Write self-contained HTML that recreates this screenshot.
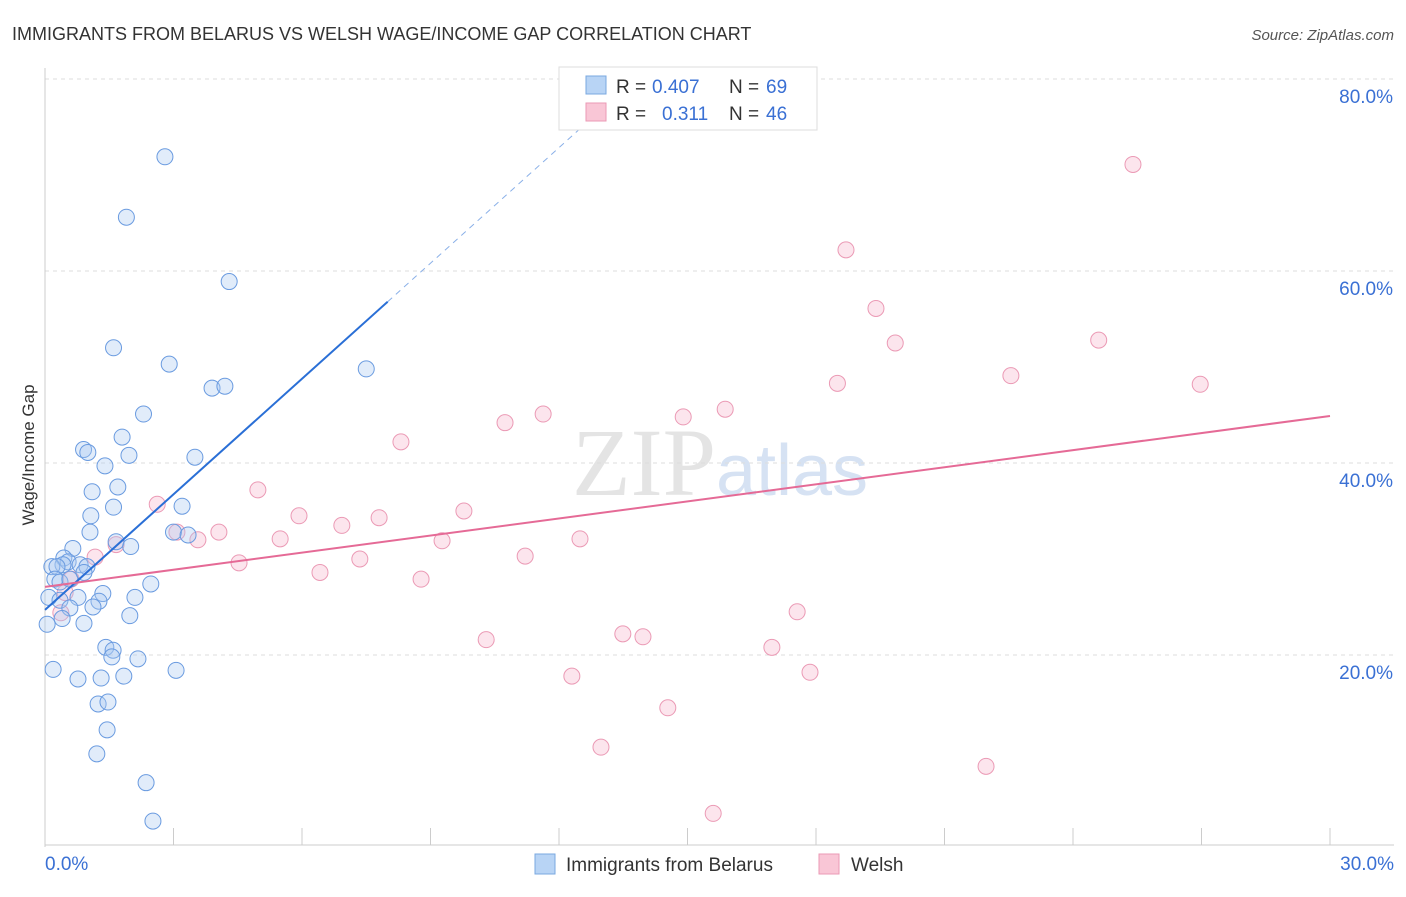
<!DOCTYPE html>
<html><head><meta charset="utf-8"><style>
body{margin:0;background:#fff;font-family:"Liberation Sans",sans-serif;}
</style></head><body>
<svg width="1406" height="892" xmlns="http://www.w3.org/2000/svg" font-family="Liberation Sans, sans-serif">
<text x="12" y="40" font-size="18" fill="#333">IMMIGRANTS FROM BELARUS VS WELSH WAGE/INCOME GAP CORRELATION CHART</text>
<text x="1394" y="40" font-size="15" fill="#555" font-style="italic" text-anchor="end">Source: ZipAtlas.com</text>
<text x="720" y="495" font-size="96" fill="#e4e4e4" text-anchor="middle" font-family="Liberation Serif, serif">ZIP<tspan fill="#d6e2f3" font-family="Liberation Sans, sans-serif" font-size="72">atlas</tspan></text>
<g id="grid"></g><g id="axes"></g><g id="marks"></g>
<text x="34" y="455" font-size="17" fill="#333" text-anchor="middle" transform="rotate(-90 34 455)">Wage/Income Gap</text>
<g>
<rect x="559" y="67" width="258" height="63" fill="#fff" stroke="#ddd"/>
<rect x="586" y="76" width="20" height="18" fill="#b8d4f5" stroke="#7aa8e0"/>
<rect x="586" y="103" width="20" height="18" fill="#f9c6d6" stroke="#eb9ab5"/>
<text x="616" y="93" font-size="19" fill="#333">R =</text>
<text x="652" y="93" font-size="19" fill="#3a70d4">0.407</text>
<text x="729" y="93" font-size="19" fill="#333">N =</text>
<text x="766" y="93" font-size="19" fill="#3a70d4">69</text>
<text x="616" y="120" font-size="19" fill="#333">R =</text>
<text x="662" y="120" font-size="19" fill="#3a70d4">0.311</text>
<text x="729" y="120" font-size="19" fill="#333">N =</text>
<text x="766" y="120" font-size="19" fill="#3a70d4">46</text>
</g>
<g>
<rect x="535" y="854" width="20" height="20" fill="#b8d4f5" stroke="#7aa8e0"/>
<text x="566" y="871" font-size="19" fill="#333">Immigrants from Belarus</text>
<rect x="819" y="854" width="20" height="20" fill="#f9c6d6" stroke="#eb9ab5"/>
<text x="851" y="871" font-size="19" fill="#333">Welsh</text>
</g>
</svg>
<script>
const yTicks=[20,40,60,80];
const xTickLabels=["0.0%","30.0%"];
const blueX=[2.8,1.9,4.3,1.6,2.9,7.5,3.9,4.2,2.3,1.8,0.9,1.0,1.96,3.5,1.4,1.7,1.1,1.6,3.2,1.07,1.05,3.0,3.34,1.66,2.0,0.65,0.44,0.54,0.42,0.16,0.28,0.82,0.98,0.91,0.23,0.35,0.58,2.47,1.35,0.09,0.77,0.35,2.1,1.26,1.12,0.58,1.98,0.4,0.91,0.05,1.42,1.59,1.56,2.17,0.19,3.06,0.77,1.31,1.84,1.24,1.47,1.45,1.21,2.36,2.52];
const blueY=[71.9,65.6,58.9,52.0,50.3,49.8,47.8,48.0,45.1,42.7,41.4,41.1,40.8,40.6,39.7,37.5,37.0,35.4,35.5,34.5,32.8,32.8,32.5,31.8,31.3,31.1,30.1,29.7,29.4,29.2,29.2,29.4,29.2,28.6,27.9,27.6,27.9,27.4,26.4,26.0,26.0,25.7,26.0,25.6,25.0,24.9,24.1,23.8,23.3,23.2,20.8,20.5,19.8,19.6,18.5,18.4,17.5,17.6,17.8,14.9,15.1,12.2,9.7,6.7,2.7];
const pinkX=[25.4,18.7,19.4,19.85,24.6,22.55,18.5,26.97,11.63,15.88,14.9,10.74,8.31,4.97,2.62,5.93,9.78,7.8,6.93,4.06,3.08,3.57,5.49,9.27,12.49,1.66,1.17,11.21,7.35,4.53,6.42,8.78,0.61,0.47,17.56,0.37,10.3,13.49,13.96,16.97,17.86,12.3,14.54,12.98,21.97,15.6];
const pinkY=[71.1,62.2,56.1,52.5,52.8,49.1,48.3,48.2,45.1,45.6,44.8,44.2,42.2,37.2,35.7,34.5,35.0,34.3,33.5,32.8,32.8,32.0,32.1,31.9,32.1,31.5,30.2,30.3,30.0,29.6,28.6,27.9,27.9,26.5,24.5,24.4,21.6,22.2,21.9,20.8,18.2,17.8,14.5,10.4,8.4,3.5];
const blueTrend={x0:0,y0:24.7,x1:8.0,y1:56.8,xd:12.7};
const pinkTrend={x0:0,y0:27.1,x1:30,y1:44.9};
const NS="http://www.w3.org/2000/svg";
const X=v=>45+v/30*1285, Y=v=>847-v*9.6;
function mk(t,a,p){const e=document.createElementNS(NS,t);for(const k in a)e.setAttribute(k,a[k]);document.getElementById(p).appendChild(e);return e;}
yTicks.forEach(t=>{
 let l=mk('line',{x1:45,x2:1394,y1:Y(t),y2:Y(t),stroke:'#ddd','stroke-dasharray':'4,4'},'grid');
 
 
 let tx=mk('text',{x:1393,y:Y(t)+24,'font-size':19,fill:'#3a70d4','text-anchor':'end'},'axes');tx.textContent=t.toFixed(1)+'%';
 
 
});
let ax=mk('line',{x1:45,x2:45,y1:68,y2:847,stroke:'#ccc'},'axes');


let bx=mk('line',{x1:45,x2:1394,y1:845,y2:845,stroke:'#ccc'},'axes');


for(let i=0;i<=10;i++){let t=mk('line',{x1:X(i*3),x2:X(i*3),y1:828,y2:845,stroke:'#ccc'},'axes');
 
 }
[[0,'start',45],[30,'end',1394]].forEach((d,i)=>{let t=mk('text',{x:d[2],y:870,'font-size':19,fill:'#3a70d4','text-anchor':d[1]},'axes');t.textContent=xTickLabels[i];
 
 });
pinkX.forEach((v,i)=>{let c=mk('circle',{cx:X(v),cy:Y(pinkY[i]),r:8,fill:'rgba(246,180,202,0.35)',stroke:'#eb9ab5','stroke-width':1},'marks');
 
 });
blueX.forEach((v,i)=>{let c=mk('circle',{cx:X(v),cy:Y(blueY[i]),r:8,fill:'rgba(170,200,240,0.35)',stroke:'#6a9be0','stroke-width':1},'marks');
 
 });
const bs=(blueTrend.y1-blueTrend.y0)/(blueTrend.x1-blueTrend.x0);
let bd=mk('line',{x1:X(blueTrend.x1),y1:Y(blueTrend.y1),x2:X(blueTrend.xd),y2:Y(blueTrend.y0+bs*blueTrend.xd),stroke:'#8ab0e8','stroke-dasharray':'6,5'},'marks');


let bl=mk('line',{x1:X(blueTrend.x0),y1:Y(blueTrend.y0),x2:X(blueTrend.x1),y2:Y(blueTrend.y1),stroke:'#2a6fd6','stroke-width':2},'marks');


let pl=mk('line',{x1:X(pinkTrend.x0),y1:Y(pinkTrend.y0),x2:X(pinkTrend.x1),y2:Y(pinkTrend.y1),stroke:'#e56a96','stroke-width':2},'marks');


</script>
</body></html>
